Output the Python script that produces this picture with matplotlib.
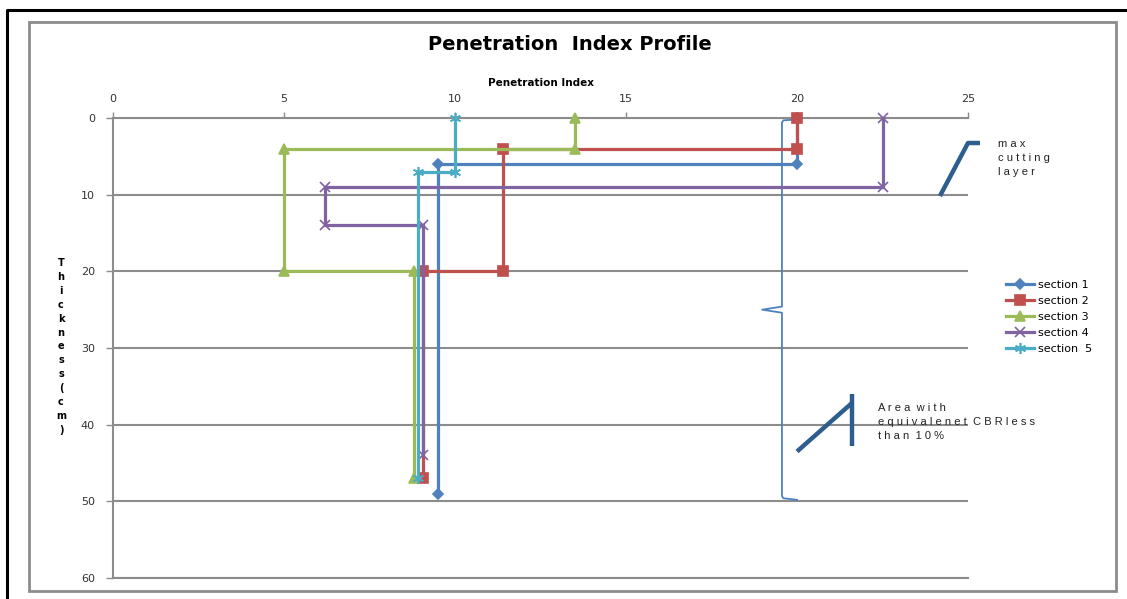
import numpy as np
import matplotlib.pyplot as plt
from matplotlib.lines import Line2D

# данные: глубина (см) и индекс пенетрации по каждому разрезу
names = ["section 1", "section 2", "section 3", "section 4", "section  5"]
pi_1 = [20, 20, 9.5, 9.5]
depth_1 = [0, 6, 6, 49]
pi_2 = [20, 20, 11.4, 11.4, 9.05, 9.05]
depth_2 = [0, 4, 4, 20, 20, 47]
pi_3 = [13.5, 13.5, 5, 5, 8.8, 8.8]
depth_3 = [0, 4, 4, 20, 20, 47]
pi_4 = [22.5, 22.5, 6.2, 6.2, 9.05, 9.05]
depth_4 = [0, 9, 9, 14, 14, 44]
pi_5 = [10, 10, 8.92, 8.92]
depth_5 = [0, 7, 7, 47]

colors = ["#4F81BD", "#C0504D", "#9BBB59", "#8064A2", "#4BACC6"]
markers = ["D", "s", "^", "x", (6, 2, 0)]
msizes = [5, 7, 7, 7, 8]

W, H = 1127, 599
fig = plt.figure(figsize=(W / 100, H / 100), dpi=100)
fig.patch.set_facecolor("white")


def fx(px):
    return px / W


def fy(py):
    return 1 - py / H


# рамки
fig.add_artist(Line2D([fx(7), fx(7), fx(1130)], [fy(602), fy(10), fy(10)],
                      color="black", lw=2.2, transform=fig.transFigure))
fig.add_artist(plt.Rectangle((fx(29), fy(591)), fx(1116 - 29), (591 - 22) / H,
                             fill=False, ec="#8c8c8c", lw=2,
                             transform=fig.transFigure))

ax = fig.add_axes([fx(113), fy(578), fx(968 - 113), (578 - 118) / H])

xs = [pi_1, pi_2, pi_3, pi_4, pi_5]
ys = [depth_1, depth_2, depth_3, depth_4, depth_5]
for x, y, c, m, ms, n in zip(xs, ys, colors, markers, msizes, names):
    ax.plot(x, y, color=c, lw=2.3, marker=m, ms=ms, mec=c, mfc=c,
            mew=1.2, label=n, solid_joinstyle="miter", clip_on=False,
            zorder=3)

ax.set_xlim(0, 25)
ax.set_ylim(60, 0)
ax.set_xticks(np.arange(0, 26, 5))
ax.set_yticks(np.arange(0, 61, 10))
ax.xaxis.tick_top()
ax.xaxis.set_label_position("top")
ax.grid(axis="y", color="#8c8c8c", lw=1.5)
ax.set_axisbelow(True)
ax.spines["right"].set_visible(False)
for s in ["left", "top", "bottom"]:
    ax.spines[s].set_color("#8c8c8c")
    ax.spines[s].set_linewidth(1.5)
ax.tick_params(axis="x", length=4, width=1, color="#8c8c8c", labelsize=8,
               labelcolor="#333333", pad=6)
ax.tick_params(axis="y", length=5, width=1, color="#8c8c8c", labelsize=8,
               labelcolor="#333333", pad=8)
ax.set_xlabel("Penetration Index", fontsize=7.5, fontweight="bold", labelpad=6)

fig.text(fx(570), fy(44), "Penetration  Index Profile", ha="center",
         va="center", fontsize=14, fontweight="bold")

# подпись оси Y — буквы столбиком
chars = list("Thickness(cm)")
for i, ch in enumerate(chars):
    fig.text(fx(61), fy(263 + 13.9 * i), ch, ha="center", va="center",
             fontsize=7, fontweight="bold")

# скобка "{" и выноски
bc = "#4F81BD"
ax.plot([20.0, 19.6, 19.56, 19.56, 18.98, 19.56, 19.56, 19.6, 20.0],
        [0.2, 0.3, 0.6, 24.6, 25.0, 25.4, 49.3, 49.6, 49.8],
        color=bc, lw=1.3, clip_on=False)
dk = "#2E5E8E"
ax.plot([24.18, 25.0, 25.35], [10.17, 3.26, 3.26], color=dk, lw=3.2,
        clip_on=False, solid_capstyle="butt")
ax.plot([20.0, 21.6], [43.5, 37.2], color=dk, lw=3.2, clip_on=False,
        solid_capstyle="butt")
ax.plot([21.6, 21.6], [36.0, 42.8], color=dk, lw=3.2, clip_on=False,
        solid_capstyle="butt")

txt = dict(ha="left", va="center", fontsize=8, linespacing=1.5,
           color="#222222", family="Liberation Sans")
fig.text(fx(998), fy(158), "m a x\nc u t t i n g\nl a y e r", **txt)
fig.text(fx(878), fy(422),
         "A r e a  w i t h\ne q u i v a l e n e t  C B R l e s s\nt h a n  1 0 %",
         **txt)

leg = ax.legend(loc="upper left", bbox_to_anchor=(fx(1000), fy(274)),
                bbox_transform=fig.transFigure, frameon=False, fontsize=8,
                handlelength=2.6, handletextpad=0.35, labelspacing=0.55,
                borderpad=0)

plt.savefig("out.png", dpi=100)
